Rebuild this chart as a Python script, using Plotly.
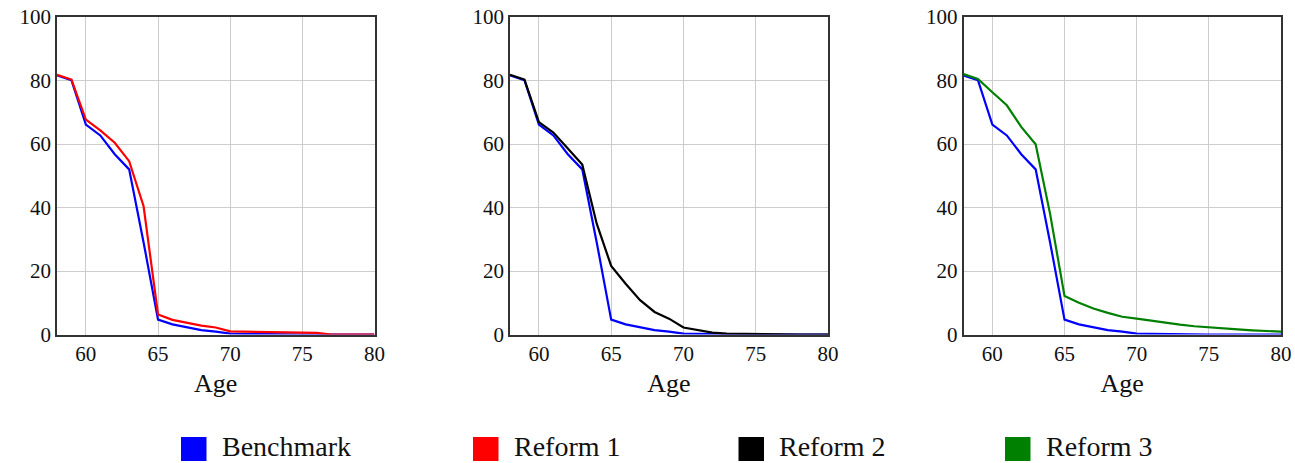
import plotly.graph_objects as go
from plotly.subplots import make_subplots

ages = list(range(58, 81))

benchmark = [81.6, 80.1, 66.1, 62.7, 56.8, 52.0, 29.0, 4.7, 3.2, 2.2, 1.4, 0.9, 0.3,
             0.2, 0.1, 0.1, 0.1, 0.0, 0.0, 0.0, 0.0, 0.0, 0.0]
reform1 = [81.8, 80.3, 67.7, 64.3, 60.4, 54.6, 40.4, 6.3, 4.6, 3.6, 2.8, 2.2, 1.0,
           0.9, 0.8, 0.7, 0.7, 0.6, 0.5, 0.0, 0.0, 0.0, 0.0]
reform2 = [81.8, 80.3, 66.9, 63.6, 58.6, 53.5, 34.9, 21.6, 16.0, 10.8, 7.1, 5.0, 2.2,
           1.3, 0.6, 0.3, 0.2, 0.1, 0.1, 0.0, 0.0, 0.0, 0.0]
reform3 = [82.0, 80.5, 76.3, 72.2, 65.4, 59.9, 38.0, 12.1, 10.0, 8.2, 6.8, 5.6, 5.0,
           4.3, 3.6, 3.1, 2.6, 2.2, 1.9, 1.6, 1.3, 1.1, 0.9]

series_names = ["Benchmark", "Reform 1", "Reform 2", "Reform 3"]
series_colors = ["#0000ff", "#ff0000", "#000000", "#008000"]
reforms = [reform1, reform2, reform3]

x_ticks = [60, 65, 70, 75, 80]
y_ticks = [0, 20, 40, 60, 80, 100]

W, H = 1295, 463
FONT = '"Liberation Serif", "Times New Roman", serif'

fig = make_subplots(rows=1, cols=3)

for i, ref in enumerate(reforms):
    col = i + 1
    fig.add_trace(go.Scatter(x=ages, y=benchmark, mode="lines",
                             line=dict(color=series_colors[0], width=2.2),
                             showlegend=False), row=1, col=col)
    fig.add_trace(go.Scatter(x=ages, y=ref, mode="lines",
                             line=dict(color=series_colors[i + 1], width=2.2),
                             showlegend=False), row=1, col=col)

panels_px = [(57, 374.5), (510, 828), (963.5, 1281)]
y_top, y_bot = 17, 334.5
for i, (l, r) in enumerate(panels_px):
    xa = "xaxis" if i == 0 else f"xaxis{i+1}"
    ya = "yaxis" if i == 0 else f"yaxis{i+1}"
    fig.layout[xa].update(domain=[l / W, r / W], range=[58, 80], tickvals=x_ticks,
                          showgrid=True, gridcolor="#cccccc", gridwidth=1,
                          showline=True, linecolor="#333333", linewidth=1.5, mirror=True,
                          ticks="", zeroline=False, automargin=False,
                          tickfont=dict(family=FONT, size=21, color="#111111"),
                          title=dict(text="Age", font=dict(family=FONT, size=26, color="#111111"),
                                     standoff=8))
    fig.layout[ya].update(domain=[1 - y_bot / H, 1 - y_top / H], range=[0, 100], tickvals=y_ticks,
                          showgrid=True, gridcolor="#cccccc", gridwidth=1,
                          showline=True, linecolor="#333333", linewidth=1.5, mirror=True,
                          ticks="", zeroline=False, automargin=False,
                          tickfont=dict(family=FONT, size=21, color="#111111"))

# manual legend with square swatches
sq_left = [181, 473, 738.5, 1005]
sq_w, sq_top, sq_bot = 25.5, 437, 461
text_gap = 13
shapes = []
annotations = []
for name, color, lx in zip(series_names, series_colors, sq_left):
    shapes.append(dict(type="rect", xref="paper", yref="paper",
                       x0=lx / W, x1=(lx + sq_w) / W, y0=1 - sq_bot / H, y1=1 - sq_top / H,
                       fillcolor=color, line=dict(width=0)))
    annotations.append(dict(xref="paper", yref="paper", x=(lx + sq_w + text_gap) / W,
                            y=1 - 446 / H, xanchor="left", yanchor="middle", showarrow=False,
                            text=name, font=dict(family=FONT, size=28, color="#111111")))

fig.update_layout(width=W, height=H, margin=dict(l=0, r=0, t=0, b=0, pad=0, autoexpand=False),
                  paper_bgcolor="white", plot_bgcolor="white",
                  shapes=shapes, annotations=annotations, showlegend=False)

fig.write_html("out.html")
